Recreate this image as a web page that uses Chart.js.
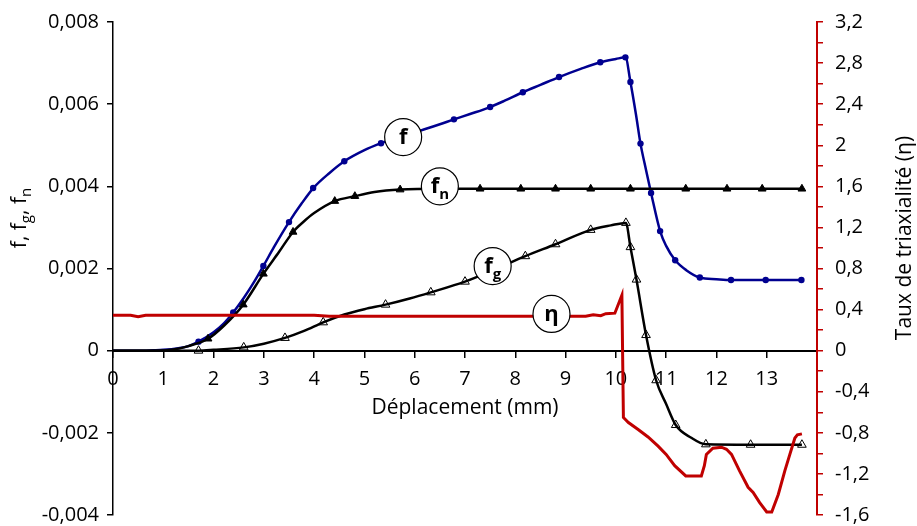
<!DOCTYPE html>
<html>
<head>
<meta charset="utf-8">
<script src="https://cdn.jsdelivr.net/npm/chart.js@4.4.1/dist/chart.umd.min.js"></script>
<style>
html, body { margin: 0; padding: 0; background: #fff; }
</style>
</head>
<body>
<canvas id="chart" width="917" height="526"></canvas>
<script>
// Axes
const xTicks = [0, 1, 2, 3, 4, 5, 6, 7, 8, 9, 10, 11, 12, 13];
const xTitle = 'Déplacement (mm)';
const rightTitle = 'Taux de triaxialité (η)';

// f (courbe bleue)
const fX = [0, 0.5, 0.8, 1.0, 1.3, 1.5, 1.7, 2.0, 2.2, 2.39, 2.6, 2.8, 2.99, 3.2, 3.5, 3.75, 4.0, 4.3, 4.6, 5.0, 5.33, 5.7, 6.1, 6.5, 6.78, 7.1, 7.5, 7.8, 8.15, 8.5, 8.87, 9.3, 9.69, 10.0, 10.19, 10.29, 10.4, 10.49, 10.6, 10.7, 10.88, 11.0, 11.18, 11.4, 11.67, 12.0, 12.29, 12.98, 13.69];
const fY = [0, 0, 0.00001, 0.00002, 0.00006, 0.00011, 0.00022, 0.00045, 0.00066, 0.00093, 0.00128, 0.00166, 0.00206, 0.00252, 0.00313, 0.00358, 0.00398, 0.00432, 0.00461, 0.00488, 0.00505, 0.00521, 0.00535, 0.00551, 0.00563, 0.00576, 0.00593, 0.00609, 0.00629, 0.00647, 0.00666, 0.00686, 0.00702, 0.0071, 0.00714, 0.00654, 0.00575, 0.00504, 0.0044, 0.00384, 0.00291, 0.00255, 0.0022, 0.00196, 0.00178, 0.00174, 0.00172, 0.00172, 0.00172];
const fMarkX = [1.7, 2.39, 2.99, 3.5, 3.98, 4.6, 5.33, 6.78, 7.5, 8.15, 8.87, 9.69, 10.19, 10.29, 10.49, 10.7, 10.88, 11.18, 11.67, 12.29, 12.98, 13.69];
const fMarkY = [0.00022, 0.00093, 0.00206, 0.00313, 0.00396, 0.00461, 0.00505, 0.00563, 0.00593, 0.00629, 0.00666, 0.00702, 0.00714, 0.00654, 0.00504, 0.00384, 0.00291, 0.0022, 0.00178, 0.00172, 0.00172, 0.00172];

// fn (triangles pleins)
const fnX = [0, 0.8, 1.2, 1.5, 1.89, 2.2, 2.59, 2.99, 3.3, 3.58, 3.8, 4.0, 4.41, 4.81, 5.2, 5.71, 6.5, 13.7];
const fnY = [0, 0, 0.00003, 0.00011, 0.00029, 0.0006, 0.00112, 0.00187, 0.0024, 0.00289, 0.00315, 0.00335, 0.00364, 0.00376, 0.00386, 0.00392, 0.00394, 0.00394];
const fnMarkX = [1.89, 2.59, 2.99, 3.58, 4.41, 4.81, 5.71, 7.3, 8.11, 8.8, 9.5, 10.29, 11.39, 12.21, 12.91, 13.7];
const fnMarkY = [0.00029, 0.00112, 0.00187, 0.00289, 0.00364, 0.00376, 0.00392, 0.00394, 0.00394, 0.00394, 0.00394, 0.00394, 0.00394, 0.00394, 0.00394, 0.00394];

// fg (triangles vides)
const fgX = [0, 1.0, 1.7, 2.0, 2.6, 3.0, 3.42, 3.8, 4.18, 4.6, 5.0, 5.42, 5.9, 6.32, 7.0, 7.6, 8.2, 8.8, 9.5, 9.9, 10.2, 10.29, 10.41, 10.6, 10.8, 11.0, 11.19, 11.5, 11.79, 12.68, 13.7];
const fgY = [0, 0, 0, 0.00002, 0.00008, 0.00017, 0.00031, 0.00048, 0.00069, 0.00088, 0.00101, 0.00112, 0.00127, 0.00142, 0.00168, 0.00198, 0.0023, 0.00259, 0.00294, 0.00305, 0.00311, 0.00252, 0.00173, 0.00038, -0.00072, -0.0013, -0.00181, -0.00212, -0.00228, -0.00229, -0.00229];
const fgMarkX = [1.7, 2.6, 3.42, 4.18, 5.42, 6.32, 7.0, 8.2, 8.8, 9.5, 10.2, 10.29, 10.41, 10.6, 10.8, 11.19, 11.79, 12.68, 13.7];
const fgMarkY = [0, 0.00008, 0.00031, 0.00069, 0.00112, 0.00142, 0.00168, 0.0023, 0.00259, 0.00294, 0.00311, 0.00252, 0.00173, 0.00038, -0.00072, -0.00181, -0.00228, -0.00229, -0.00229];

// eta (axe de droite)
const etaX = [0, 0.35, 0.5, 0.65, 1.0, 4.0, 4.3, 9.0, 9.4, 9.55, 9.7, 9.8, 9.98, 10.12, 10.15, 10.25, 10.45, 10.64, 10.84, 11.0, 11.17, 11.39, 11.7, 11.76, 11.8, 11.93, 12.1, 12.2, 12.3, 12.46, 12.63, 12.73, 12.86, 13.0, 13.1, 13.23, 13.36, 13.46, 13.56, 13.61, 13.7];
const etaY = [0.345, 0.345, 0.33, 0.345, 0.345, 0.345, 0.335, 0.335, 0.335, 0.35, 0.34, 0.36, 0.365, 0.54, -0.65, -0.7, -0.77, -0.84, -0.93, -1.01, -1.12, -1.22, -1.22, -1.12, -1.01, -0.95, -0.94, -0.96, -1.01, -1.17, -1.33, -1.38, -1.48, -1.57, -1.57, -1.4, -1.17, -1.01, -0.85, -0.82, -0.81];

// Etiquettes dans des cercles
const noteText = ['f', 'f', 'f', 'η'];
const noteSub = ['', 'n', 'g', ''];
const noteX = [5.77, 6.5, 7.55, 8.72];
const noteY = [0.0052, 0.004, 0.00206, 0.358];
const noteAxis = ['y', 'y', 'y', 'y2'];

const FONT = '"Open Sans", "Liberation Sans", sans-serif';
const BLUE = '#000090';
const RED = '#C00000';

function pts(xs, ys) {
    return xs.map((x, i) => ({ x: x, y: ys[i] }));
}

function fmtComma(v, digits) {
    if (Math.abs(v) < 1e-9) return '0';
    return parseFloat(v.toFixed(digits)).toString().replace('.', ',');
}

// Titres d'axes et étiquettes
const notesPlugin = {
    id: 'notes',
    afterDraw(chart) {
        const ctx = chart.ctx;
        const xs = chart.scales.x;
        ctx.save();

        // Etiquettes
        for (let i = 0; i < noteText.length; i++) {
            const px = xs.getPixelForValue(noteX[i]);
            const py = chart.scales[noteAxis[i]].getPixelForValue(noteY[i]);
            ctx.beginPath();
            ctx.arc(px, py, 18.5, 0, Math.PI * 2);
            ctx.fillStyle = '#fff';
            ctx.fill();
            ctx.lineWidth = 1.2;
            ctx.strokeStyle = '#000';
            ctx.stroke();
            ctx.fillStyle = '#000';
            ctx.textBaseline = 'alphabetic';
            ctx.font = 'bold 22px ' + FONT;
            const mainW = ctx.measureText(noteText[i]).width;
            ctx.font = 'bold 15px ' + FONT;
            const subW = noteSub[i] ? ctx.measureText(noteSub[i]).width : 0;
            let sx = px - (mainW + subW) / 2;
            ctx.font = 'bold 22px ' + FONT;
            ctx.textAlign = 'left';
            ctx.fillText(noteText[i], sx, py + 7);
            if (noteSub[i]) {
                ctx.font = 'bold 15px ' + FONT;
                ctx.fillText(noteSub[i], sx + mainW, py + 13);
            }
        }

        // Titre axe x
        ctx.font = '21px ' + FONT;
        ctx.textAlign = 'center';
        ctx.textBaseline = 'middle';
        ctx.fillText(xTitle, (chart.chartArea.left + chart.chartArea.right) / 2, 408);

        // Titre axe gauche : f, fg, fn
        const parts = [['f, f', false], ['g', true], [', f', false], ['n', true]];
        ctx.save();
        ctx.translate(26, 218);
        ctx.rotate(-Math.PI / 2);
        let total = 0;
        parts.forEach(p => {
            ctx.font = (p[1] ? '15px ' : '21px ') + FONT;
            total += ctx.measureText(p[0]).width;
        });
        let cx = -total / 2;
        ctx.textAlign = 'left';
        ctx.textBaseline = 'alphabetic';
        parts.forEach(p => {
            ctx.font = (p[1] ? '15px ' : '21px ') + FONT;
            ctx.fillText(p[0], cx, p[1] ? 5 : 0);
            cx += ctx.measureText(p[0]).width;
        });
        ctx.restore();

        // Titre axe droit
        ctx.save();
        ctx.translate(905, 238);
        ctx.rotate(-Math.PI / 2);
        ctx.font = '21px ' + FONT;
        ctx.textAlign = 'center';
        ctx.textBaseline = 'middle';
        ctx.fillText(rightTitle, 0, 0);
        ctx.restore();

        ctx.restore();
    }
};

new Chart(document.getElementById('chart'), {
    type: 'scatter',
    data: {
        datasets: [
            {
                data: pts(etaX, etaY), yAxisID: 'y2', showLine: true,
                borderColor: RED, borderWidth: 3, pointRadius: 0, tension: 0
            },
            {
                data: pts(fgX, fgY), yAxisID: 'y', showLine: true,
                borderColor: '#000', borderWidth: 2.5, pointRadius: 0, cubicInterpolationMode: 'monotone'
            },
            {
                data: pts(fgMarkX, fgMarkY), yAxisID: 'y', showLine: false,
                pointStyle: 'triangle', pointRadius: 5, backgroundColor: '#fff',
                borderColor: '#000', borderWidth: 1
            },
            {
                data: pts(fnX, fnY), yAxisID: 'y', showLine: true,
                borderColor: '#000', borderWidth: 2.5, pointRadius: 0, cubicInterpolationMode: 'monotone'
            },
            {
                data: pts(fnMarkX, fnMarkY), yAxisID: 'y', showLine: false,
                pointStyle: 'triangle', pointRadius: 4.5, backgroundColor: '#000',
                borderColor: '#000', borderWidth: 1
            },
            {
                data: pts(fX, fY), yAxisID: 'y', showLine: true,
                borderColor: BLUE, borderWidth: 2.5, pointRadius: 0, cubicInterpolationMode: 'monotone'
            },
            {
                data: pts(fMarkX, fMarkY), yAxisID: 'y', showLine: false,
                pointStyle: 'circle', pointRadius: 3.2, backgroundColor: BLUE,
                borderColor: BLUE, borderWidth: 0
            }
        ]
    },
    options: {
        responsive: false,
        animation: false,
        devicePixelRatio: 1,
        layout: { padding: { top: 22, bottom: 11, left: 0, right: 0 } },
        plugins: {
            legend: { display: false },
            tooltip: { enabled: false }
        },
        scales: {
            x: {
                type: 'linear',
                min: 0,
                max: 14,
                position: { y: 0 },
                afterBuildTicks: s => { s.ticks = xTicks.map(v => ({ value: v })); },
                grid: { drawOnChartArea: false, color: '#000', tickLength: 6, lineWidth: 1.5 },
                border: { color: '#000', width: 2 },
                ticks: { color: '#000', font: { family: FONT, size: 20 }, padding: 11, maxRotation: 0, autoSkip: false }
            },
            y: {
                type: 'linear',
                position: 'left',
                min: -0.004,
                max: 0.008,
                afterFit: s => { s.width = 113; s.paddingTop = 0; s.paddingBottom = 0; },
                grid: { drawOnChartArea: false, color: '#000', tickLength: 6, lineWidth: 1.5 },
                border: { color: '#000', width: 1.5 },
                ticks: {
                    stepSize: 0.002, color: '#000', padding: 8,
                    font: { family: FONT, size: 20 },
                    callback: v => fmtComma(v, 3)
                }
            },
            y2: {
                type: 'linear',
                position: 'right',
                min: -1.6,
                max: 3.2,
                afterFit: s => { s.width = 100; s.paddingTop = 0; s.paddingBottom = 0; },
                grid: { drawOnChartArea: false, color: RED, tickLength: 6, lineWidth: 1.5 },
                border: { color: RED, width: 2 },
                ticks: {
                    stepSize: 0.2, autoSkip: false, color: '#000', padding: 12,
                    font: { family: FONT, size: 20 },
                    callback: v => (Math.round(v * 10) % 4 === 0 ? fmtComma(v, 1) : '')
                }
            }
        }
    },
    plugins: [notesPlugin]
});
</script>
</body>
</html>
